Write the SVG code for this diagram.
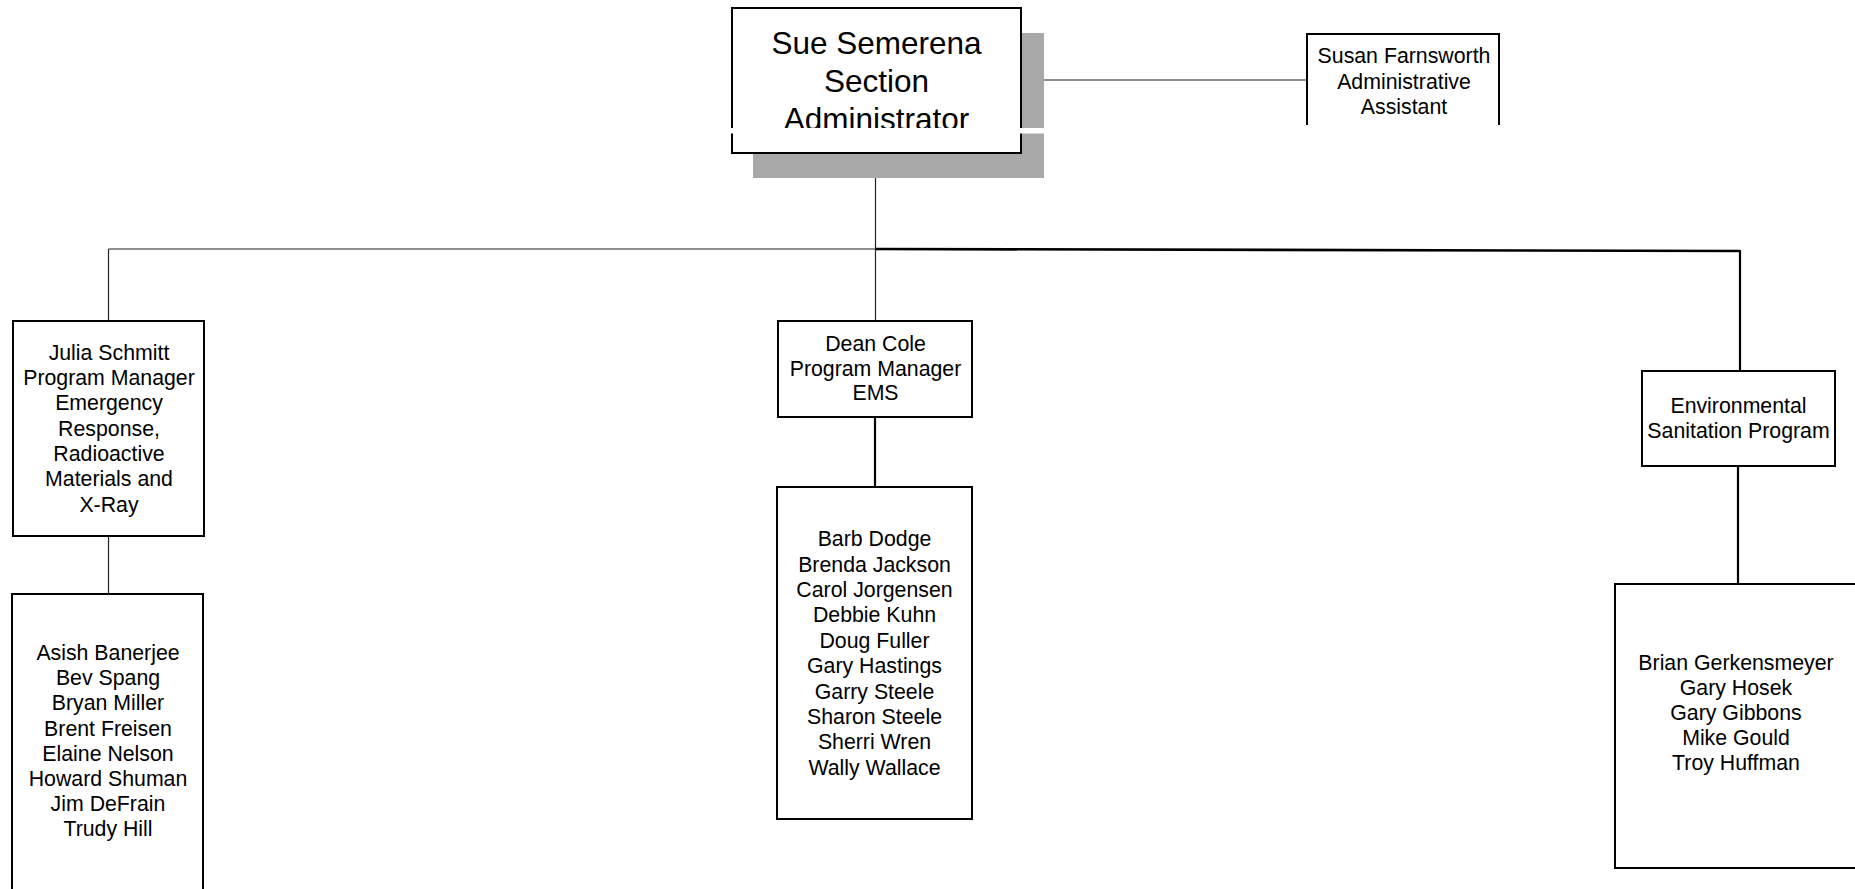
<svg xmlns="http://www.w3.org/2000/svg" width="1855" height="889" viewBox="0 0 1855 889">
<style>
.box{fill:#fff;stroke:#000;stroke-width:2}
.open{fill:none;stroke:#000;stroke-width:2}
.t{font-family:"Liberation Sans",Arial,sans-serif;font-size:21.3px;fill:#000;text-anchor:middle}
.big{font-family:"Liberation Sans",Arial,sans-serif;font-size:31.5px;fill:#000;text-anchor:middle}
.thin{stroke:#222;stroke-width:1.2;fill:none}
.thick{stroke:#000;stroke-width:2.2;fill:none}
</style>
<rect width="1855" height="889" fill="#fff"/>
<g id="connectors">
<line class="thin" x1="1021" y1="80" x2="1307" y2="80"/>
<line class="thin" x1="875.5" y1="153" x2="875.5" y2="321"/>
<line class="thin" x1="108.5" y1="249" x2="876" y2="249"/>
<line x1="876" y1="249" x2="1740" y2="251" stroke="#000" stroke-width="2.6"/>
<line class="thin" x1="108.5" y1="249" x2="108.5" y2="321"/>
<line class="thick" x1="1740" y1="250" x2="1740" y2="371"/>
<line class="thin" x1="108.5" y1="536" x2="108.5" y2="594"/>
<line class="thick" x1="875" y1="417" x2="875" y2="487"/>
<line class="thick" x1="1738" y1="466" x2="1738" y2="584"/>
</g>
<g id="sue">
<rect x="753" y="33" width="291" height="145" fill="#a8a8a8"/>
<rect class="box" x="732" y="8" width="289" height="145"/>
<text class="big" x="876.5" y="53.5">Sue Semerena</text>
<text class="big" x="876.5" y="91.5">Section</text>
<text class="big" x="876.5" y="129.5">Administrator</text>
<rect x="726" y="128" width="322" height="5.5" fill="#fff"/>
</g>
<g id="susan">
<path class="open" d="M1307 125 V34 H1499 V125"/>
<text class="t" x="1404" y="63">Susan Farnsworth</text>
<text class="t" x="1404" y="88.5">Administrative</text>
<text class="t" x="1404" y="114">Assistant</text>
</g>
<g id="julia">
<rect class="box" x="13" y="321" width="191" height="215"/>
<text class="t" x="109" y="359.7">Julia Schmitt</text>
<text class="t" x="109" y="385">Program Manager</text>
<text class="t" x="109" y="410.3">Emergency</text>
<text class="t" x="109" y="435.6">Response,</text>
<text class="t" x="109" y="460.9">Radioactive</text>
<text class="t" x="109" y="486.2">Materials and</text>
<text class="t" x="109" y="511.5">X-Ray</text>
</g>
<g id="julia-staff">
<path class="open" d="M12 890 V594 H203 V890"/>
<text class="t" x="108" y="660">Asish Banerjee</text>
<text class="t" x="108" y="685.2">Bev Spang</text>
<text class="t" x="108" y="710.4">Bryan Miller</text>
<text class="t" x="108" y="735.6">Brent Freisen</text>
<text class="t" x="108" y="760.8">Elaine Nelson</text>
<text class="t" x="108" y="786">Howard Shuman</text>
<text class="t" x="108" y="811.2">Jim DeFrain</text>
<text class="t" x="108" y="836.4">Trudy Hill</text>
</g>
<g id="dean">
<rect class="box" x="778" y="321" width="194" height="96"/>
<text class="t" x="875.5" y="351.2">Dean Cole</text>
<text class="t" x="875.5" y="375.7">Program Manager</text>
<text class="t" x="875.5" y="400.2">EMS</text>
</g>
<g id="dean-staff">
<rect class="box" x="777" y="487" width="195" height="332"/>
<text class="t" x="874.5" y="546.2">Barb Dodge</text>
<text class="t" x="874.5" y="571.6">Brenda Jackson</text>
<text class="t" x="874.5" y="597">Carol Jorgensen</text>
<text class="t" x="874.5" y="622.4">Debbie Kuhn</text>
<text class="t" x="874.5" y="647.8">Doug Fuller</text>
<text class="t" x="874.5" y="673.2">Gary Hastings</text>
<text class="t" x="874.5" y="698.6">Garry Steele</text>
<text class="t" x="874.5" y="724">Sharon Steele</text>
<text class="t" x="874.5" y="749.4">Sherri Wren</text>
<text class="t" x="874.5" y="774.8">Wally Wallace</text>
</g>
<g id="env">
<rect class="box" x="1642" y="371" width="193" height="95"/>
<text class="t" x="1738.5" y="413">Environmental</text>
<text class="t" x="1738.5" y="437.5">Sanitation Program</text>
</g>
<g id="env-staff">
<path class="open" d="M1860 584 H1615 V868 H1860"/>
<text class="t" x="1736" y="670">Brian Gerkensmeyer</text>
<text class="t" x="1736" y="695">Gary Hosek</text>
<text class="t" x="1736" y="720">Gary Gibbons</text>
<text class="t" x="1736" y="745">Mike Gould</text>
<text class="t" x="1736" y="770">Troy Huffman</text>
</g>
</svg>
